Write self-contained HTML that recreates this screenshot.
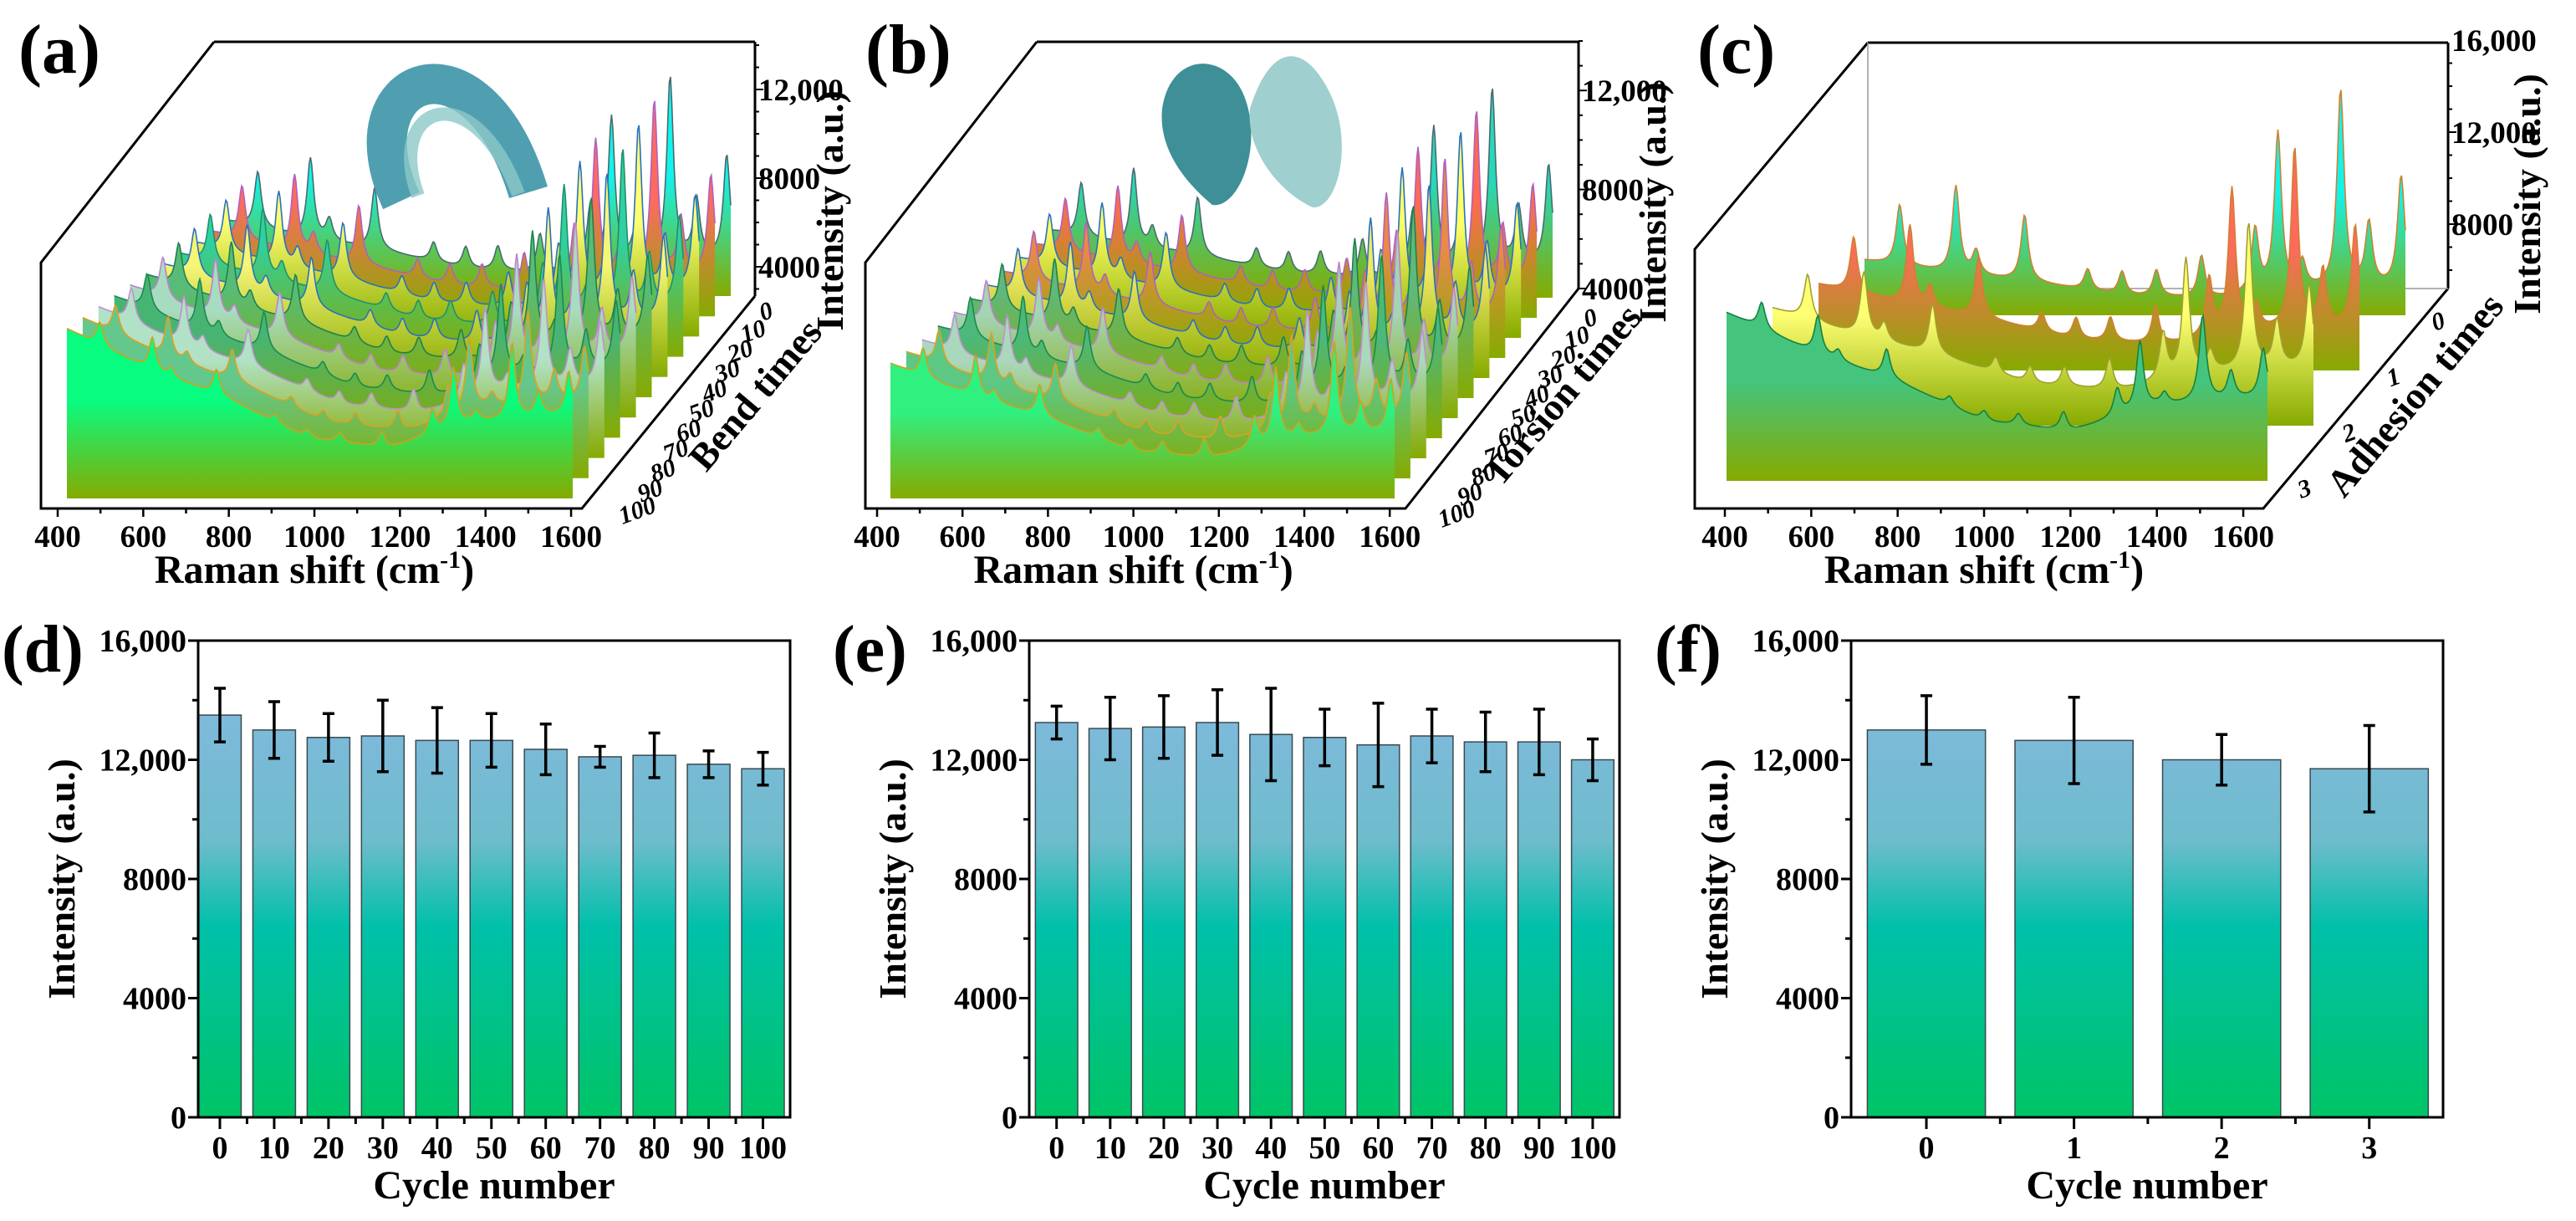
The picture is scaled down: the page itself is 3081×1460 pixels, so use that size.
<!DOCTYPE html>
<html><head><meta charset="utf-8"><style>
html,body{margin:0;padding:0;background:#fff;}
svg{display:block;font-family:"Liberation Serif",serif;font-weight:bold;}
text{font-family:"Liberation Serif",serif;font-weight:bold;}
</style></head><body>
<svg id="fig" width="3081" height="1460" viewBox="0 0 3081 1460" xmlns="http://www.w3.org/2000/svg">
<defs>
<linearGradient id="barGrad" gradientUnits="userSpaceOnUse" x1="0" y1="766" x2="0" y2="1336">
<stop offset="0" stop-color="#88b8e4"/><stop offset="0.42" stop-color="#6ebccc"/><stop offset="0.6" stop-color="#00c0aa"/><stop offset="1" stop-color="#00c466"/>
</linearGradient>
</defs>
<g id="layer"></g>
</svg>
<script>
// ---------- bar chart data ----------
const dCats=[0,10,20,30,40,50,60,70,80,90,100];
const dVals=[13500,13000,12750,12800,12650,12650,12350,12100,12150,11850,11700];
const dErrs=[900,950,800,1200,1100,900,850,350,750,450,550];
const eCats=[0,10,20,30,40,50,60,70,80,90,100];
const eVals=[13250,13050,13100,13250,12850,12750,12500,12800,12600,12600,12000];
const eErrs=[550,1050,1050,1100,1550,950,1400,900,1000,1100,700];
const fCats=[0,1,2,3];
const fVals=[13000,12650,12000,11700];
const fErrs=[1150,1450,850,1450];
const yTicks=[0,4000,8000,12000,16000];
const yTickLabels=["0","4000","8000","12,000","16,000"];
// ---------- Raman spectra data ----------
const peakCenters=[482,613,660,773,920,1000,1080,1185,1310,1363,1420,1509,1575,1650];
const peakAmps=[2300,3300,900,2500,800,900,1000,1600,2400,6000,1000,7500,2400,4200];
const baseKnots=[400,600,800,1000,1200,1400,1660];
const baseShape=[1.7,1.3,1.0,0.6,0.5,0.75,0.85];
const aLevels=[2000,2250,2500,2750,3000,3250,3500,3750,4000,4250,4500];
const aScales=[1.1,1.05,1.0,0.95,0.9,0.85,0.8,0.7,0.65,0.55,0.45];
const bLevels=[1600,1750,1900,2050,2200,2350,2500,2650,2800,3000,3200];
const bScales=[0.95,0.92,0.9,0.85,0.8,0.78,0.74,0.7,0.65,0.6,0.5];
const cLevels=[1400,2200,3000,4300];
const cScales=[1.15,1.05,0.85,0.5];
const aDepthLabels=["0","10","20","30","40","50","60","70","80","90","100"];
const cDepthLabels=["0","1","2","3"];
const ramanTicks=[400,600,800,1000,1200,1400,1600];
const aIntTicks=[4000,8000,12000];
const bIntTicks=[4000,8000,12000];
const cIntTicks=[8000,12000,16000];

const NS="http://www.w3.org/2000/svg";
const FONT='"Liberation Serif", serif';
const layer=document.getElementById('layer');
const defs=document.querySelector('defs');
function mk(tag,attrs,parent){const e=document.createElementNS(NS,tag);for(const k in attrs)e.setAttribute(k,attrs[k]);(parent||layer).appendChild(e);return e;}
function txt(s,x,y,size,parent,anchor,extra){const t=mk('text',Object.assign({x:x,y:y,'font-size':size,'text-anchor':anchor||'middle',fill:'#000','font-family':FONT,'font-weight':'bold'},extra||{}),parent);t.textContent=s;return t;}

// ---------- bar panels ----------
function barPanel(id,label,cats,vals,errs,L,R,xmin,xmax,barW,minorStep){
  const g=mk('g',{});
  
  
  const T=766,B=1336;
  const xs=v=>L+(v-xmin)/(xmax-xmin)*(R-L);
  const ys=v=>B-v/16000*(B-T);
  for(let i=0;i<cats.length;i++){
    const x=xs(cats[i]),w=barW*(R-L)/(xmax-xmin);
    const r=mk('rect',{x:x-w/2,y:ys(vals[i]),width:w,height:B-ys(vals[i]),fill:'url(#barGrad)',stroke:'#3a4a50','stroke-width':1.5},g);
    
    
    const eb=mk('path',{d:`M${x} ${ys(vals[i]+errs[i])}V${ys(vals[i]-errs[i])}M${x-7} ${ys(vals[i]+errs[i])}H${x+7}M${x-7} ${ys(vals[i]-errs[i])}H${x+7}`,stroke:'#000','stroke-width':3.5,fill:'none'},g);
    
    
  }
  mk('rect',{x:L,y:T,width:R-L,height:B-T,fill:'none',stroke:'#000','stroke-width':3},g);
  for(let v=0;v<=16000;v+=2000){const y=ys(v);const major=v%4000===0;mk('line',{x1:L,x2:L-(major?12:7),y1:y,y2:y,stroke:'#000','stroke-width':3},g);}
  yTicks.forEach((v,i)=>{const t=txt(yTickLabels[i],L-14,ys(v)+13,38,g,'end');});
  cats.forEach(c=>{const x=xs(c);mk('line',{x1:x,x2:x,y1:B,y2:B+14,stroke:'#000','stroke-width':3},g);
    const t=txt(String(c),x,1385,38,g);});
  for(let c=cats[0]+minorStep;c<cats[cats.length-1];c+=2*minorStep){const x=xs(c);mk('line',{x1:x,x2:x,y1:B,y2:B+8,stroke:'#000','stroke-width':3},g);}
  const xt=txt('Cycle number',(L+R)/2,1433,48,g);
  const yt=txt('Intensity (a.u.)',0,0,46,g,'middle',{transform:`translate(${L-148},1051) rotate(-90)`});
  const pl=txt(label,L-237+2,803,80,g,'start');
}
barPanel('d','(d)',dCats,dVals,dErrs,237,945,-4,105,7.85,5);
barPanel('e','(e)',eCats,eVals,eErrs,1231,1937,-5.1,105,7.9,5);
barPanel('f','(f)',fCats,fVals,fErrs,2214,2922,-0.51,3.5,0.8,0.5);

// ---------- 3D Raman panels ----------
function baseAt(nu){for(let i=0;i<baseKnots.length-1;i++){if(nu<=baseKnots[i+1]){const t=(nu-baseKnots[i])/(baseKnots[i+1]-baseKnots[i]);return baseShape[i]*(1-t)+baseShape[i+1]*t;}}return baseShape[baseShape.length-1];}
function spec(nu,level,scale){let s=level*baseAt(nu);for(let k=0;k<peakCenters.length;k++){const u=(nu-peakCenters[k])/10;s+=scale*peakAmps[k]/(1+u*u);}return s;}
let gid=0;
function panel3D(cfg){
  const g=mk('g',{});
  
  
  const F=cfg.frame;
  mk('path',{d:`M${F.tlx} ${F.top}H${F.ax}M${F.tlx} ${F.top}L${F.lx} ${F.ly}V${F.by}H${F.brx}L${F.ax} ${F.aby}`,fill:'none',stroke:'#000','stroke-width':3},g);
  mk('line',{x1:F.ax,x2:F.ax,y1:F.top,y2:F.aby,stroke:'#000','stroke-width':3},g);
  if(cfg.backWall){mk('path',{d:`M${F.tlx} ${F.top}V${F.aby}H${F.ax}`,fill:'none',stroke:'#999','stroke-width':1.5},g);}
  const n=cfg.levels.length;
  for(let i=0;i<n;i++){
    const fromFront=n-1-i;
    const x0=cfg.x0+fromFront*cfg.dx, yB=cfg.yB-fromFront*cfg.dy;
    const id='sg'+(gid++);
    const lg=mk('linearGradient',{id:id,x1:0,y1:0,x2:0,y2:1},defs);
    mk('stop',{offset:0,'stop-color':cfg.colors[i]},lg);
    mk('stop',{offset:0.45,'stop-color':cfg.colors[i]},lg);
    mk('stop',{offset:1,'stop-color':'#86aa00'},lg);
    let pts=[];
    for(let nu=400;nu<=1660;nu+=3){const x=x0+(nu-400)/1260*cfg.W;const y=yB-spec(nu,cfg.levels[i],cfg.scales[i])*cfg.ppk/1000;pts.push(x.toFixed(1)+' '+y.toFixed(1));}
    const p=mk('path',{d:`M${x0} ${yB}L${pts.join('L')}L${x0+cfg.W} ${yB}Z`,fill:`url(#${id})`},g);
    
    
    mk('path',{d:'M'+pts.join('L'),fill:'none',stroke:cfg.lines[i],'stroke-width':1.6},g);
  }
  const xs=v=>cfg.xt0+(v-400)*cfg.xtk;
  for(let v=400;v<=1600;v+=100){mk('line',{x1:xs(v),x2:xs(v),y1:F.by,y2:F.by+(v%200===0?10:6),stroke:'#000','stroke-width':2.5},g);}
  ramanTicks.forEach(v=>{const t=txt(String(v),xs(v),654,37,g);});
  const xt=mk('text',{x:(xs(400)+xs(1600))/2,y:697,'font-size':48,'text-anchor':'middle','font-family':FONT,'font-weight':'bold'},g);
  xt.innerHTML='Raman shift (cm<tspan font-size="30" dy="-18">-1</tspan><tspan dy="18">)</tspan>';
  
  const iy=v=>cfg.iy0-(v-cfg.iv0)*cfg.ppk/1000;
  for(let v=cfg.iv0-4000;v<=16000;v+=1000){const y=iy(v);if(y<F.top-1||y>F.aby+1)continue;mk('line',{x1:F.ax,x2:F.ax+(v%4000===0?10:5),y1:y,y2:y,stroke:'#000','stroke-width':2},g);}
  cfg.intTicks.forEach(v=>{const t=txt(v>=10000?(v/1000)+',000':String(v),F.ax+4,iy(v)+13,37,g,'start');});
  const it=txt('Intensity (a.u.)',0,0,46,g,'middle',{transform:`translate(${cfg.itx},${cfg.ity}) rotate(-90)`});
  
  const m=cfg.depth.length;
  cfg.depth.forEach((s,i)=>{const t=m>1?i/(m-1):0;const x=cfg.d0[0]+(cfg.d1[0]-cfg.d0[0])*t,y=cfg.d0[1]+(cfg.d1[1]-cfg.d0[1])*t;
    const e=txt(s,x,y+10,30,g,'middle',{'font-style':'italic',transform:`rotate(-20 ${x} ${y})`});});
  const dt=txt(cfg.depthTitle,0,0,46,g,'middle',{transform:`translate(${cfg.dtx},${cfg.dty}) rotate(-50)`});
  
  const pl=txt(cfg.label,cfg.lx,87,84,g,'start');
  return g;
}
panel3D({id:'a',label:'(a)',lx:22,frame:{tlx:256,top:50,ax:903,lx:49,ly:314,by:608,brx:696,aby:354},
  levels:aLevels,scales:aScales,depth:aDepthLabels,x0:80,W:605,yB:596,dx:18.9,dy:24.2,ppk:26.5,
  colors:['#10f4ec','#ff6a60','#ffff74','#30d0a0','#f6f676','#58bc78','#a8dcc0','#48b474','#b2e2c6','#64c88c','#08fc80'],
  lines:['#4a6a70','#b060c0','#2a70c0','#209070','#2a70c0','#208050','#c080d0','#1a8a50','#c090d0','#e0a020','#d0a020'],
  xt0:69,xtk:0.5117,iy0:319,iv0:4000,intTicks:aIntTicks,itx:1008,ity:252,
  d0:[916,372],d1:[762,610],depthTitle:'Bend times',dtx:915,dty:482});
panel3D({id:'b',label:'(b)',lx:1035,frame:{tlx:1240,top:50,ax:1888,lx:1035,ly:314,by:608,brx:1681,aby:345},
  levels:bLevels,scales:bScales,depth:aDepthLabels,x0:1065,W:603,yB:596,dx:18.9,dy:24,ppk:29.6,
  colors:['#28d8b8','#ff6a50','#ffff66','#e88a48','#f0e864','#60b87a','#a4d4b4','#4cb87a','#aad8bc','#5cc884','#30f080'],
  lines:['#4a6a70','#b060c0','#2a70c0','#b060c0','#2a70c0','#208050','#c080d0','#1a8a50','#c090d0','#e0a020','#d0a020'],
  xt0:1049,xtk:0.511,iy0:345,iv0:4000,intTicks:bIntTicks,itx:1992,ity:242,
  d0:[1902,380],d1:[1742,614],depthTitle:'Torsion times',dtx:1880,dty:482});
panel3D({id:'c',label:'(c)',lx:2030,backWall:true,frame:{tlx:2234,top:51,ax:2928,lx:2027,ly:298,by:608,brx:2707,aby:345},
  levels:cLevels,scales:cScales,depth:cDepthLabels,x0:2065,W:647,yB:575,dx:55,dy:66,ppk:27.5,
  colors:['#10f4ec','#ff6a5c','#ffff74','#44c47c'],
  lines:['#d08030','#d08030','#a0a030','#188040'],
  xt0:2063,xtk:0.5167,iy0:268,iv0:8000,intTicks:cIntTicks,itx:3038,ity:232,
  d0:[2916,384],d1:[2756,584],depthTitle:'Adhesion times',dtx:2900,dty:482});

// ---------- inset photos ----------
const ia=mk('g',{});
mk('path',{d:'M480 240 C 410 90, 570 25, 632 230',fill:'none',stroke:'#4f9fb0','stroke-width':48},ia);
mk('path',{d:'M500 234 C 460 125, 565 85, 620 232',fill:'none',stroke:'#8cc8c8','stroke-width':16,opacity:0.8},ia);
const ib=mk('g',{});
mk('path',{d:'M1390 130 C 1400 60, 1470 60, 1490 120 C 1510 180, 1480 250, 1450 245 C 1420 220, 1385 180, 1390 130Z',fill:'#3e8f98'},ib);
mk('path',{d:'M1495 130 C 1520 50, 1560 50, 1590 110 C 1620 170, 1600 250, 1570 248 C 1530 230, 1490 180, 1495 130Z',fill:'#9fcfcf'},ib);
</script>
</body></html>
